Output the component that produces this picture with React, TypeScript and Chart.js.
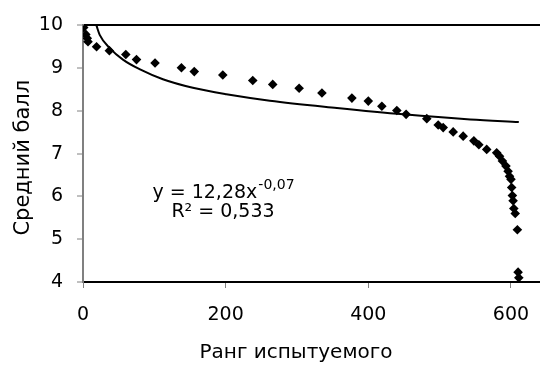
import React, { useEffect, useRef } from "react";
import { Chart, registerables } from "chart.js";

Chart.register(...registerables);

const FONT = "'DejaVu Sans', sans-serif";

// Observed points: rank of respondent vs mean score
const rankX = [1, 4, 6, 7, 19, 37, 60, 75, 101, 138, 156, 196, 238, 266, 303, 335, 377, 400, 419, 440, 453, 482, 498, 505, 519, 533, 548, 555, 566, 580, 584, 588, 593, 596, 598, 600, 601, 602, 603, 604, 606, 609, 610, 611];
const meanScore = [9.95, 9.79, 9.7, 9.62, 9.5, 9.41, 9.32, 9.2, 9.12, 9.01, 8.92, 8.84, 8.71, 8.62, 8.53, 8.42, 8.3, 8.23, 8.11, 8.01, 7.92, 7.82, 7.67, 7.61, 7.51, 7.41, 7.3, 7.21, 7.1, 7.02, 6.94, 6.83, 6.71, 6.59, 6.47, 6.4, 6.21, 6.02, 5.9, 5.72, 5.6, 5.22, 4.23, 4.1];

// Power trend line
const trendX = [18.8, 23.4, 37.5, 56, 80, 112, 154, 201, 262, 356, 449, 543, 611];
const trendY = [10, 9.78, 9.47, 9.2, 8.97, 8.74, 8.54, 8.39, 8.24, 8.07, 7.92, 7.8, 7.74];

const xTicks = [0, 200, 400, 600];
const yTicks = [4, 5, 6, 7, 8, 9, 10];

const xTitle = "Ранг испытуемого";
const yTitle = "Средний балл";
const eqMain = "y = 12,28x";
const eqSup = "-0,07";
const eqR2 = "R² = 0,533";

export default function App() {
  const ref = useRef<HTMLCanvasElement>(null);

  useEffect(() => {
    document.body.style.margin = "0";
    const canvas = ref.current;
    if (!canvas) return;

    const textPlugin = {
      id: "textPlugin",
      afterDraw(chart: any) {
        const { ctx, chartArea } = chart;
        ctx.save();
        ctx.fillStyle = "#000";
        // y title
        ctx.save();
        ctx.font = `21px ${FONT}`;
        ctx.textAlign = "center";
        ctx.textBaseline = "alphabetic";
        ctx.translate(29, (chartArea.top + chartArea.bottom) / 2 + 4);
        ctx.rotate(-Math.PI / 2);
        ctx.fillText(yTitle, 0, 0);
        ctx.restore();
        // x title
        ctx.font = `20px ${FONT}`;
        ctx.textAlign = "center";
        ctx.textBaseline = "alphabetic";
        ctx.fillText(xTitle, 296, 358);
        // equation
        const cx = 223;
        ctx.font = `19px ${FONT}`;
        const wMain = ctx.measureText(eqMain).width;
        ctx.font = `14px ${FONT}`;
        const wSup = ctx.measureText(eqSup).width;
        const start = cx - (wMain + wSup) / 2;
        ctx.textAlign = "left";
        ctx.font = `19px ${FONT}`;
        ctx.fillText(eqMain, start, 198);
        ctx.font = `14px ${FONT}`;
        ctx.fillText(eqSup, start + wMain + 1, 189);
        ctx.font = `19px ${FONT}`;
        ctx.textAlign = "center";
        ctx.fillText(eqR2, cx, 216.5);
        ctx.restore();
      },
    };

    const chart = new Chart(canvas, {
      type: "scatter",
      data: {
        datasets: [
          {
            label: "points",
            data: rankX.map((x, i) => ({ x, y: meanScore[i] })),
            pointStyle: "rectRot",
            pointRadius: 4.8,
            pointBackgroundColor: "#000",
            pointBorderColor: "#000",
            pointBorderWidth: 0,
            showLine: false,
          },
          {
            label: "trend",
            data: trendX.map((x, i) => ({ x, y: trendY[i] })),
            showLine: true,
            borderColor: "#000",
            borderWidth: 2,
            pointRadius: 0,
            cubicInterpolationMode: "monotone",
            fill: false,
          },
        ],
      },
      options: {
        animation: false,
        responsive: false,
        maintainAspectRatio: false,
        layout: { padding: { top: 24, right: 0, left: 0, bottom: 0 } },
        plugins: {
          legend: { display: false },
          tooltip: { enabled: false },
          title: { display: false },
        },
        scales: {
          x: {
            type: "linear",
            min: 0,
            max: 641,
            afterFit: (s: any) => {
              s.height = 83;
              s.paddingRight = 0;
              s.paddingLeft = 0;
            },
            afterBuildTicks: (s: any) => {
              s.ticks = xTicks.map((v) => ({ value: v }));
            },
            ticks: {
              font: { family: FONT, size: 19 },
              color: "#000",
              padding: 16,
              maxRotation: 0,
            },
            grid: {
              drawOnChartArea: false,
              drawTicks: true,
              tickLength: 6,
              tickColor: "#808080",
              tickWidth: 1,
            },
            border: { display: true, color: "#000", width: 2 },
          },
          y: {
            type: "linear",
            min: 4,
            max: 10,
            afterFit: (s: any) => {
              s.width = 83;
            },
            afterBuildTicks: (s: any) => {
              s.ticks = yTicks.map((v) => ({ value: v }));
            },
            ticks: {
              font: { family: FONT, size: 19 },
              color: "#000",
              padding: 14,
            },
            grid: {
              drawOnChartArea: true,
              color: (c: any) => (c.tick && c.tick.value === 10 ? "#000" : "rgba(0,0,0,0)"),
              lineWidth: 2,
              drawTicks: true,
              tickLength: 6,
              tickColor: "#808080",
              tickWidth: 1,
            },
            border: { display: true, color: "#808080", width: 2 },
          },
        },
      },
      plugins: [textPlugin],
    });

    return () => chart.destroy();
  }, []);

  return (
    <div style={{ width: 540, height: 365, overflow: "hidden" }}>
      <canvas ref={ref} width={545} height={365} style={{ width: 545, height: 365, display: "block" }} />
    </div>
  );
}
